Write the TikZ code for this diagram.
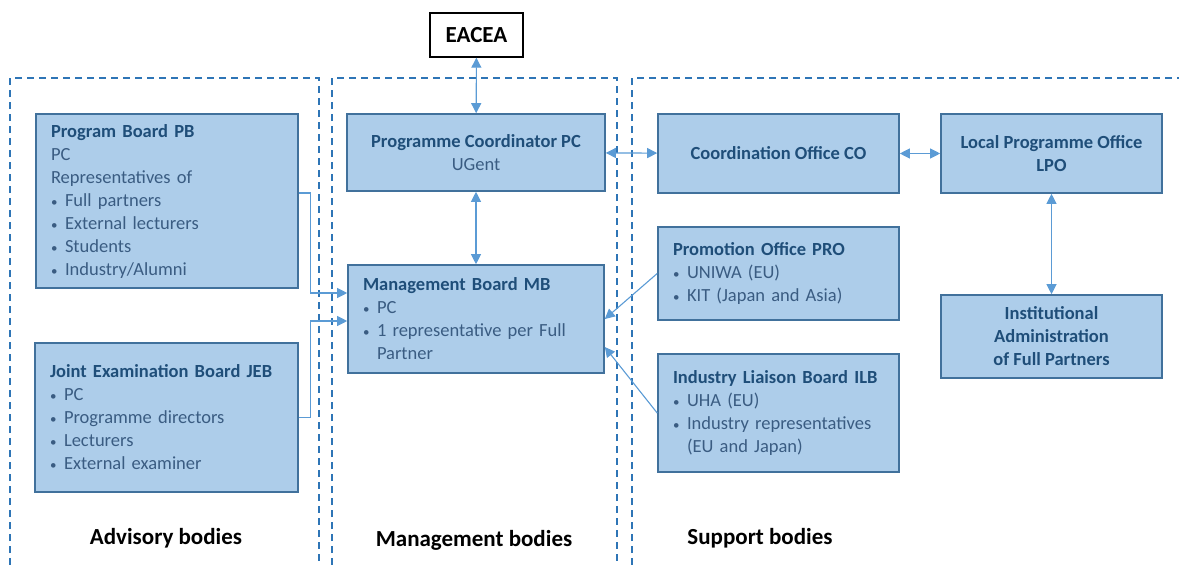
\documentclass[tikz,border=0pt]{standalone}
\usepackage{fontspec}
\setmainfont{Carlito}
\usetikzlibrary{arrows.meta}
\definecolor{boxfill}{HTML}{ADCDEA}
\definecolor{boxline}{HTML}{41719C}
\definecolor{arrowblue}{HTML}{5B9BD5}
\definecolor{dashblue}{HTML}{2E75B6}
\definecolor{titleblue}{HTML}{1F4E79}
\definecolor{textblue}{HTML}{3A5C82}
\newcommand{\bul}{\makebox[14pt][l]{\fontsize{13}{13}\selectfont•}}
\newcommand{\hang}{\hspace*{14pt}}
\newcommand{\ttl}[1]{\textbf{\color{titleblue}#1}}

\begin{document}
\begin{tikzpicture}[x=1pt,y=-1pt,
						bodybox/.style={draw=boxline, line width=1.6pt, fill=boxfill, inner xsep=15pt, inner ysep=3pt, text=textblue, font=\fontsize{18.5}{23}\selectfont},
						listbox/.style 2 args={bodybox, align=left, text width=#1-30pt, minimum height=#2},
						midbox/.style 2 args={bodybox, align=center, minimum width=#1, minimum height=#2},
						region/.style={dashblue, line width=1.4pt, dash pattern=on 7pt off 5pt},
						link/.style={arrowblue, line width=1.1pt, -{Triangle[length=10pt,width=10pt]}},
						dlink/.style={link, {Triangle[length=10pt,width=10pt]}-{Triangle[length=10pt,width=10pt]}},
						grouplabel/.style={font=\fontsize{23}{26}\selectfont\bfseries},
						]
						\useasboundingbox (0,0) rectangle (1179,565);
						%Regions
						\draw[region] (10,565) -- (10,78) -- (319,78) -- (319,565);
						\draw[region] (332,565) -- (332,78) -- (617,78) -- (617,565);
						\draw[region] (632,565) -- (632,78) -- (1179,78);
						%Nodes
						\node[draw=black, line width=1.4pt, fill=white, minimum width=93pt, minimum height=44pt, font=\fontsize{23}{26}\selectfont\bfseries] (eacea) at (476.5,35) {EACEA};
						\node[listbox={262pt}{174pt}] (pb) at (167,201) {\ttl{Program Board PB}\\PC\\Representatives of\\\bul Full partners\\\bul External lecturers\\\bul Students\\\bul Industry/Alumni};
						\node[listbox={263pt}{149pt}] (jeb) at (166.5,417.5) {\ttl{Joint Examination Board JEB}\\\bul PC\\\bul Programme directors\\\bul Lecturers\\\bul External examiner};
						\node[midbox={258pt}{77pt}] (pc) at (476,152.5) {\ttl{Programme Coordinator PC}\\UGent};
						\node[listbox={256pt}{108pt}] (mb) at (476,319) {\ttl{Management Board MB}\\\bul PC\\\bul 1 representative per Full\\\hang Partner};
						\node[midbox={241pt}{79pt}] (co) at (778.5,153.5) {\ttl{Coordination Office CO}};
						\node[midbox={221pt}{79pt}] (lpo) at (1051.5,153.5) {\ttl{Local Programme Office}\\\ttl{LPO}};
						\node[listbox={241pt}{93pt}] (pro) at (778.5,273.5) {\ttl{Promotion Office PRO}\\\bul UNIWA (EU)\\\bul KIT (Japan and Asia)};
						\node[listbox={241pt}{118pt}] (ilb) at (778.5,413) {\ttl{Industry Liaison Board ILB}\\\bul UHA (EU)\\\bul Industry representatives\\\hang (EU and Japan)};
						\node[midbox={221pt}{83pt}] (inst) at (1051.5,336.5) {\ttl{Institutional}\\\ttl{Administration}\\\ttl{of Full Partners}};
						\node[grouplabel] (advisory) at (166,538) {Advisory bodies};
						\node[grouplabel] (management) at (474,540) {Management bodies};
						\node[grouplabel] (support) at (760,538) {Support bodies};
						%Lines
						\draw[dlink] (eacea) -- (pc);
						\draw[dlink] (pc) -- (mb);
						\draw[dlink] (pc) -- (co);
						\draw[dlink] (co) -- (lpo);
						\draw[dlink] (lpo) -- (inst);
						\draw[link] (pro.west) -- (mb.east);
						\draw[link] (ilb.west) -- ([yshift=-28pt]mb.east);
						\draw[link] ([yshift=8pt]pb.east) -- ++(12,0) |- ([yshift=26pt]mb.west);
						\draw[link] (jeb.east) -- ++(12,0) |- ([yshift=-2pt]mb.west);
					\end{tikzpicture}
\end{document}
